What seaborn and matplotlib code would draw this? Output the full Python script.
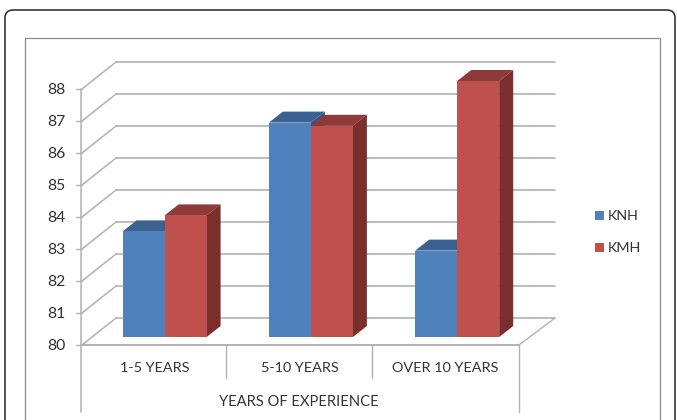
import matplotlib
matplotlib.use('Agg')
import matplotlib.pyplot as plt
from matplotlib.patches import Polygon, FancyBboxPatch, Rectangle
from matplotlib.transforms import Affine2D
import pandas as pd
import seaborn as sns

categorias = ['1-5 YEARS', '5-10 YEARS', 'OVER 10 YEARS']
knh = [83.3, 86.7, 82.7]
kmh = [83.8, 86.6, 88.0]
series = ['KNH', 'KMH']
ticks_y = [80, 81, 82, 83, 84, 85, 86, 87, 88]
eje_x = 'YEARS OF EXPERIENCE'

tabla = pd.DataFrame({
    'cat': categorias * 2,
    'valor': knh + kmh,
    'hospital': [series[0]] * 3 + [series[1]] * 3,
})

sns.set_style('white')
plt.rcParams['font.family'] = ['Lato', 'DejaVu Sans']
gris_texto = '#333333'
gris_linea = '#b2b2b2'
colores = {'KNH': '#4f81bd', 'KMH': '#c0504d'}
techo = {'KNH': '#3a6190', 'KMH': '#8f3a38'}
lado = {'KNH': '#345680', 'KMH': '#7b2f2d'}

fig = plt.figure(figsize=(6.77, 4.2), dpi=100)
ax = fig.add_axes([0, 0, 1, 1])

ejes = sns.barplot(data=tabla, x='cat', y='valor', hue='hospital', hue_order=series,
                   palette=colores, saturation=1, width=0.574, gap=0, linewidth=0, ax=ax, zorder=3)

# escala: 146.3 px por categoria y 32 px por unidad
def cx(px):
    return (px - 164.6) / 146.3

def vy(py):
    return 80 + (337 - py) / 32

ax.set_xlim(cx(0), cx(677))
ax.set_ylim(vy(420), vy(0))
ax.axis('off')
ax.get_legend().remove()

# efecto 3D de cada barra
prof_x = 14 / 146.3
prof_y = 11 / 32
for contenedor, nombre in zip(ejes.containers, series):
    for barra in contenedor:
        valor = barra.get_height()
        barra.set_y(80)
        barra.set_height(valor - 80)
        x0 = barra.get_x()
        x1 = x0 + barra.get_width()
        ax.add_patch(Polygon([(x0, valor), (x1, valor), (x1 + prof_x, valor + prof_y),
                              (x0 + prof_x, valor + prof_y)], color=techo[nombre], lw=0, zorder=2))
        ax.add_patch(Polygon([(x1, 80), (x1, valor), (x1 + prof_x, valor + prof_y),
                              (x1 + prof_x, 80 + prof_y)], color=lado[nombre], lw=0, zorder=2))

# rejilla de la pared del fondo y diagonales
frente = -8 / 32
fondo = 19 / 32
for v in ticks_y:
    ax.plot([cx(82), cx(116)], [v + frente, v + fondo], color=gris_linea, lw=1.1, zorder=1)
    ax.plot([cx(116), cx(555)], [v + fondo, v + fondo], color=gris_linea, lw=1.2, zorder=1)
    ax.plot([cx(76), cx(82)], [v + frente, v + frente], color=gris_linea, lw=1.0, zorder=1)
    ax.text(cx(65), v + frente - 1 / 32, str(v), ha='right', va='center', fontsize=11.3, color=gris_texto)

# piso y ejes
ax.plot([cx(81), cx(81)], [88 + frente, vy(412)], color=gris_linea, lw=1.1, zorder=1)
ax.plot([cx(81), cx(519)], [80 + frente, 80 + frente], color=gris_linea, lw=1.4, zorder=1)
ax.plot([cx(519), cx(555)], [80 + frente, 80 + fondo], color=gris_linea, lw=1.0, zorder=1)
ax.plot([cx(226), cx(226)], [80 + frente, vy(378)], color=gris_linea, lw=1.0, zorder=1)
ax.plot([cx(372), cx(372)], [80 + frente, vy(378)], color=gris_linea, lw=1.0, zorder=1)
ax.plot([cx(519), cx(519)], [80 + frente, vy(412)], color=gris_linea, lw=1.0, zorder=1)

for i, cat in enumerate(categorias):
    ax.text(cx(155 + 145 * i), vy(368), cat, ha='center', va='center', fontsize=10.4, color=gris_texto)
ax.text(cx(299), vy(402), eje_x, ha='center', va='center', fontsize=10.6, color=gris_texto)

# leyenda
for nombre, py in zip(series, [215, 247]):
    ax.add_patch(Rectangle((cx(595), vy(py + 4.5)), 9 / 146.3, 9 / 32, color=colores[nombre], lw=0))
    ax.text(cx(608), vy(py + 1), nombre, ha='left', va='center', fontsize=10.3, color=gris_texto)

# marcos en pixeles
pixeles = Affine2D().scale(1, -1).translate(0, 420)
ax.add_patch(Rectangle((25, 38), 635, 420, transform=pixeles, fill=False, ec='#8c8c8c', lw=0.9, zorder=0))
ax.add_patch(FancyBboxPatch((13, 18), 654, 420, boxstyle='round,pad=8,rounding_size=8', transform=pixeles,
                            fill=False, ec='#262626', lw=1.1, zorder=0))

fig.savefig('out.png', dpi=100)
